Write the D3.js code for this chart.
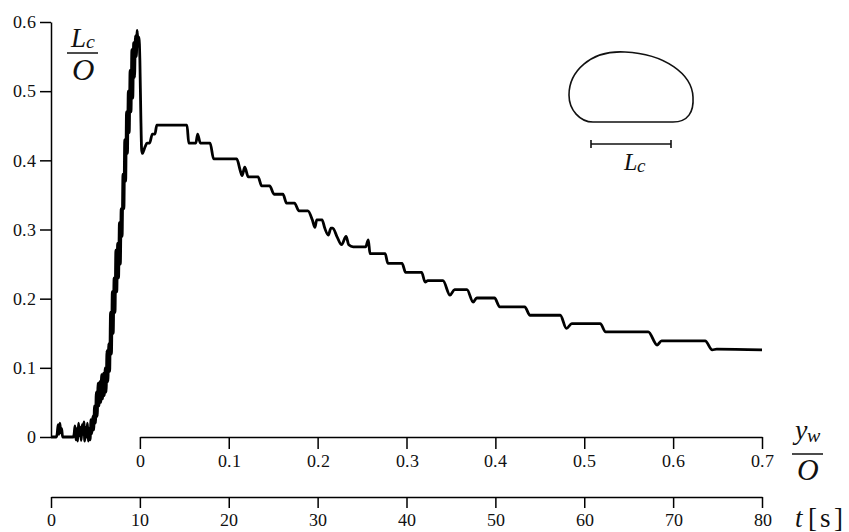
<!DOCTYPE html>
<html>
<head>
<script src="https://cdn.jsdelivr.net/npm/d3@7"></script>
<style>
@font-face { font-family: "RSerif"; src: local("Liberation Serif"), local("LiberationSerif"), local("LiberationSerif-Regular"); font-style: normal; font-weight: 400; }
@font-face { font-family: "RSerif"; src: local("Liberation Serif Italic"), local("LiberationSerif-Italic"); font-style: italic; font-weight: 400; }
</style>
</head>
<body style="margin:0">
<svg id="chart" width="849" height="532"></svg>
<script>
// ---- data ----
const timeSec = [
  0, 0.6, 0.7, 0.8, 0.9, 1.0, 1.1, 1.2, 1.3, 2.5,
  2.6, 2.7, 2.8, 2.9, 3.0, 3.1, 3.2, 3.3, 3.4, 3.5,
  3.6, 3.7, 3.8, 3.9, 4.0, 4.1, 4.2, 4.3, 4.4, 4.5,
  4.6, 4.7, 4.8, 4.9, 5.0, 5.1, 5.2, 5.3, 5.4, 5.5,
  5.6, 5.7, 5.8, 5.9, 6.0, 6.1, 6.2, 6.3, 6.4, 6.5,
  6.6, 6.7, 6.8, 6.9, 7.0, 7.1, 7.2, 7.3, 7.4, 7.5,
  7.6, 7.7, 7.8, 7.9, 8.0, 8.1, 8.2, 8.3, 8.4, 8.5,
  8.6, 8.7, 8.8, 8.9, 9.0, 9.1, 9.2, 9.3, 9.4, 9.5,
  9.6, 9.7, 9.8, 9.9, 10.0, 10.1, 10.2, 10.3, 10.4,
  10.6, 10.8, 11.1, 11.4, 11.7, 11.9, 15.3, 15.5, 16.3, 16.5,
  16.8, 17.9, 18.3, 20.9, 21.3, 21.5, 21.8, 22.2, 23.3, 23.7,
  24.6, 25.1, 26.1, 26.5, 27.4, 27.9, 28.9, 29.4, 29.7, 29.9,
  30.5, 30.8, 31.2, 31.5, 31.7, 32.2, 32.7, 33.2, 33.5, 34.0,
  35.4, 35.7, 35.9, 37.6, 37.9, 39.5, 39.9, 41.7, 42.1, 42.4,
  44.1, 44.9, 45.4, 46.8, 47.5, 47.9, 49.9, 50.5, 53.3, 53.9,
  57.3, 58.0, 58.6, 61.8, 62.4, 67.2, 68.2, 68.7, 73.6, 74.4,
  74.9, 80.0
];
const lcRatio = [
  0, 0, 0.005, 0.018, 0.004, 0.02, 0.006, 0.012, 0, 0,
  0.004, 0.016, -0.004, 0.012, -0.006, 0.02, 0.002, 0.014, -0.005, 0.018,
  0.004, 0.022, -0.006, 0.014, 0.0, 0.02, -0.006, 0.012, -0.004, 0.025,
  0.005, 0.03, 0.01, 0.045, 0.02, 0.065, 0.03, 0.078, 0.045, 0.08,
  0.05, 0.09, 0.055, 0.092, 0.06, 0.1, 0.065, 0.125, 0.08, 0.135,
  0.095, 0.18, 0.12, 0.21, 0.15, 0.23, 0.18, 0.27, 0.21, 0.28,
  0.23, 0.31, 0.25, 0.33, 0.29, 0.38, 0.33, 0.43, 0.37, 0.47,
  0.41, 0.5, 0.44, 0.53, 0.47, 0.56, 0.49, 0.57, 0.52, 0.58,
  0.55, 0.588, 0.565, 0.578, 0.545, 0.47, 0.415, 0.41, 0.413,
  0.42, 0.425, 0.425, 0.438, 0.438, 0.451, 0.451, 0.425, 0.425, 0.438,
  0.425, 0.425, 0.402, 0.402, 0.385, 0.378, 0.39, 0.376, 0.376, 0.363,
  0.363, 0.351, 0.351, 0.338, 0.338, 0.327, 0.327, 0.314, 0.303, 0.314,
  0.314, 0.302, 0.292, 0.302, 0.302, 0.289, 0.278, 0.29, 0.278, 0.275,
  0.275, 0.285, 0.265, 0.265, 0.251, 0.251, 0.238, 0.238, 0.224, 0.226,
  0.226, 0.205, 0.213, 0.213, 0.195, 0.201, 0.201, 0.188, 0.188, 0.176,
  0.176, 0.157, 0.164, 0.164, 0.152, 0.152, 0.133, 0.139, 0.139, 0.126,
  0.127, 0.126
];
const yTicks  = [0, 0.1, 0.2, 0.3, 0.4, 0.5, 0.6];
const ywTicks = [0, 0.1, 0.2, 0.3, 0.4, 0.5, 0.6, 0.7];
const tTicks  = [0, 10, 20, 30, 40, 50, 60, 70, 80];

// ---- drawing ----
const svg = d3.select("#chart");
const FONT = "RSerif, 'Times New Roman', 'Liberation Serif'";

const x  = d3.scaleLinear().domain([0, 80]).range([51, 762]);
const y  = d3.scaleLinear().domain([0, 0.6]).range([437, 22]);
const xw = d3.scaleLinear().domain([0, 0.7]).range([x(10), x(80)]);

const fmt = d => d === 0 ? "0" : d3.format(".1f")(d);

function styleAxis(g) {
  g.attr("font-family", null).attr("font-size", null);
  g.select(".domain").attr("stroke", "#000").attr("stroke-width", 1.5);
  g.selectAll(".tick line").attr("stroke", "#000").attr("stroke-width", 1.5);
  g.selectAll(".tick text").style("font-family", FONT).style("font-size", "18px").attr("fill", "#111");
}

svg.append("g").attr("transform", "translate(51,0)")
  .call(d3.axisLeft(y).tickValues(yTicks).tickFormat(fmt).tickSize(11).tickSizeOuter(0).tickPadding(4))
  .call(styleAxis);

svg.append("g").attr("transform", "translate(0,437)")
  .call(d3.axisBottom(xw).tickValues(ywTicks).tickFormat(fmt).tickSize(12).tickSizeOuter(0).tickPadding(5))
  .call(styleAxis);

svg.append("g").attr("transform", "translate(0,497)")
  .call(d3.axisBottom(x).tickValues(tTicks).tickFormat(d3.format("d")).tickSize(11).tickSizeOuter(0).tickPadding(5))
  .call(styleAxis);

// data line
const pts = timeSec.map((t, i) => [t, lcRatio[i]]);
svg.append("path")
  .datum(pts)
  .attr("fill", "none")
  .attr("stroke", "#000")
  .attr("stroke-width", 2.8)
  .attr("stroke-linejoin", "round")
  .attr("d", d3.line().x(d => x(d[0])).y(d => y(d[1])).curve(d3.curveMonotoneX));

// ---- fraction labels ----
function fraction(cx, lineY, numBase, denBase, lineW, numParts, denFs) {
  const t = svg.append("text").attr("x", cx).attr("y", numBase).attr("text-anchor", "middle")
    .attr("fill", "#111").style("font-family", FONT);
  numParts.forEach(p => {
    t.append("tspan").style("font-family", FONT).style("font-style", "italic")
      .style("font-size", p.fs + "px").attr("dy", p.dy || 0).text(p.s);
  });
  svg.append("line").attr("x1", cx - lineW / 2).attr("x2", cx + lineW / 2)
    .attr("y1", lineY).attr("y2", lineY).attr("stroke", "#111").attr("stroke-width", 1.5);
  svg.append("text").attr("x", cx).attr("y", denBase).attr("text-anchor", "middle")
    .style("font-family", FONT).style("font-style", "italic").style("font-size", denFs + "px")
    .attr("fill", "#111").text("O");
}
fraction(82.5, 53, 47, 80, 31, [{s: "L", fs: 27}, {s: "c", fs: 20, dy: 1}], 31);
fraction(807.5, 454, 439, 480, 31, [{s: "y", fs: 28}, {s: "w", fs: 20, dy: 3}], 30);

// t [s]
svg.append("text").attr("x", 795).attr("y", 527).attr("fill", "#111")
  .style("font-family", FONT).style("font-style", "italic").style("font-size", "27px").text("t");
svg.append("text").attr("x", 808).attr("y", 527).attr("fill", "#111")
  .style("font-family", FONT).style("font-size", "27px").style("letter-spacing", "3px").text("[s]");

// ---- droplet inset ----
const dp = d3.path();
dp.moveTo(593, 122);
dp.lineTo(673, 122);
dp.bezierCurveTo(688, 122, 694, 112, 693, 97);
dp.bezierCurveTo(692, 74, 665, 54, 625, 52);
dp.bezierCurveTo(590, 50, 569, 72, 569, 95);
dp.bezierCurveTo(569, 110, 580, 122, 593, 122);
dp.closePath();
svg.append("path").attr("d", dp.toString()).attr("fill", "none").attr("stroke", "#111").attr("stroke-width", 1.6);

const bar = svg.append("g").attr("stroke", "#111").attr("stroke-width", 1.6);
bar.append("line").attr("x1", 591).attr("x2", 671).attr("y1", 144).attr("y2", 144);
bar.append("line").attr("x1", 591).attr("x2", 591).attr("y1", 140).attr("y2", 148);
bar.append("line").attr("x1", 671).attr("x2", 671).attr("y1", 140).attr("y2", 148);

const lc = svg.append("text").attr("x", 634).attr("y", 170).attr("text-anchor", "middle")
  .attr("fill", "#111").style("font-family", FONT);
lc.append("tspan").style("font-family", FONT).style("font-style", "italic").style("font-size", "24px").text("L");
lc.append("tspan").style("font-family", FONT).style("font-style", "italic").style("font-size", "19px").attr("dy", 2).text("c");
</script>
</body>
</html>
